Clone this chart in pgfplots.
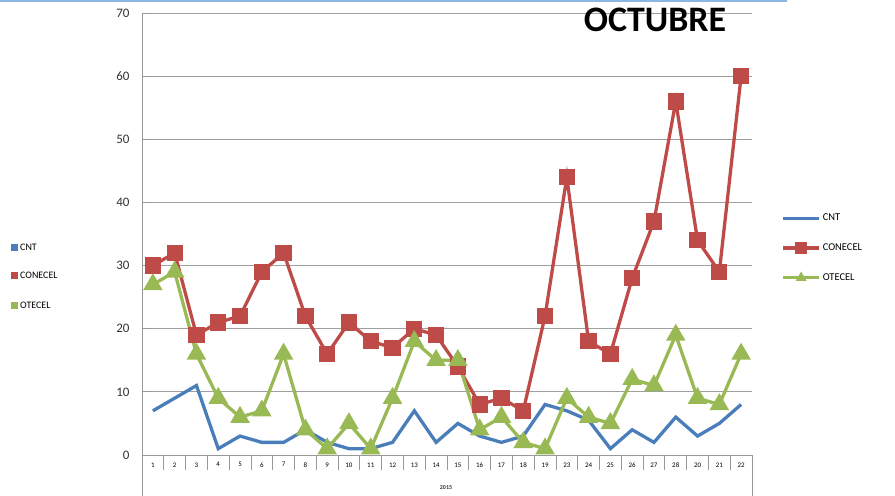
\documentclass[border=0pt]{standalone}
\usepackage{pgfplots}
\pgfplotsset{compat=1.18}
\usepackage{fontspec}
\setmainfont{Carlito}
\definecolor{cntc}{HTML}{4A7EBB}
\definecolor{conc}{HTML}{BE4B48}
\definecolor{otec}{HTML}{98B954}
\definecolor{topline}{HTML}{8EB4E3}
\begin{document}
\begin{tikzpicture}[x=1bp,y=1bp]
\useasboundingbox (0,0) rectangle (895,496);
\draw[topline,line width=1.5bp] (0,495) -- (787,495);
\begin{axis}[
  at={(142bp,41bp)}, anchor=south west,
  scale only axis, width=610bp, height=442bp,
  xmin=-0.5, xmax=27.5, ymin=0, ymax=70,
  axis x line*=bottom, axis y line*=left,
  axis line style={gray!80, line width=0.8pt, -},
  ytick={0,10,...,70},
  ymajorgrids, grid style={gray!75, line width=0.9pt},
  major tick length=8bp,
  ytick style={gray!80, line width=0.8pt},
  yticklabel style={font=\fontsize{13}{13}\selectfont, color=black!80, xshift=-9bp},
  /pgf/number format/assume math mode=true,
  xtick={0,...,27},
  xticklabels={1,2,3,4,5,6,7,8,9,10,11,12,13,14,15,16,17,18,19,23,24,25,26,27,28,20,21,22},
  xticklabel style={font=\fontsize{7}{7}\selectfont, yshift=-4bp},
  xtick style={draw=none},
  clip=false,
  legend style={draw=none, fill=none, at={(1.048,0.55)}, anchor=north west,
    font=\fontsize{10.5}{11}\selectfont, row sep=17.5bp, inner sep=0pt},
  legend cell align=left,
  legend image code/.code={
    \draw[#1, mark repeat=2, mark phase=2] plot coordinates {(0bp,0bp) (18bp,0bp) (36bp,0bp)};
  },
]
\addplot[cntc, line width=3.3pt, mark=none] coordinates {
(0,7)(1,9)(2,11)(3,1)(4,3)(5,2)(6,2)(7,4)(8,2)(9,1)(10,1)(11,2)(12,7)(13,2)(14,5)(15,3)(16,2)(17,3)(18,8)(19,7)(20,5.5)(21,1)(22,4)(23,2)(24,6)(25,3)(26,5)(27,8)};
\addlegendentry{CNT}
\addplot[conc, line width=3.3pt, mark=square*, mark size=6.5bp, mark options={solid},
  legend image post style={mark size=4.5bp}] coordinates {
(0,30)(1,32)(2,19)(3,21)(4,22)(5,29)(6,32)(7,22)(8,16)(9,21)(10,18)(11,17)(12,20)(13,19)(14,14)(15,8)(16,9)(17,7)(18,22)(19,44)(20,18)(21,16)(22,28)(23,37)(24,56)(25,34)(26,29)(27,60)};
\addlegendentry{CONECEL}
\addplot[otec, line width=3.3pt, mark=triangle*, mark size=8bp, mark options={solid},
  legend image post style={mark size=3bp}] coordinates {
(0,27)(1,29)(2,16)(3,9)(4,6)(5,7)(6,16)(7,4)(8,1)(9,5)(10,1)(11,9)(12,18)(13,15)(14,15)(15,4)(16,6)(17,2)(18,1)(19,9)(20,6)(21,5)(22,12)(23,11)(24,19)(25,9)(26,8)(27,16)};
\addlegendentry{OTECEL}
\end{axis}
% category boundary ticks, group lines and year label
\foreach \i in {0,...,28} {\draw[gray!80, line width=0.8pt] ({142+\i*21.7857},41) -- ++(0,-15);}
\draw[gray!80, line width=0.8pt] (142,41) -- (142,0);
\draw[gray!80, line width=0.8pt] (752,41) -- (752,0);
\node[font=\fontsize{6}{6}\selectfont\bfseries, text=black!80] at (446,8) {2015};
% title
\node[font=\fontsize{36}{36}\selectfont\bfseries] at (655,476) {OCTUBRE};
% left legend
\fill[cntc] (11,245) rectangle (18,252);
\node[anchor=west, font=\fontsize{10}{10}\selectfont, inner sep=0pt] at (20,248.5) {CNT};
\fill[conc] (11,217) rectangle (18,224);
\node[anchor=west, font=\fontsize{10}{10}\selectfont, inner sep=0pt] at (20,220.5) {CONECEL};
\fill[otec] (11,187) rectangle (18,194);
\node[anchor=west, font=\fontsize{10}{10}\selectfont, inner sep=0pt] at (20,190.5) {OTECEL};
\end{tikzpicture}
\end{document}
